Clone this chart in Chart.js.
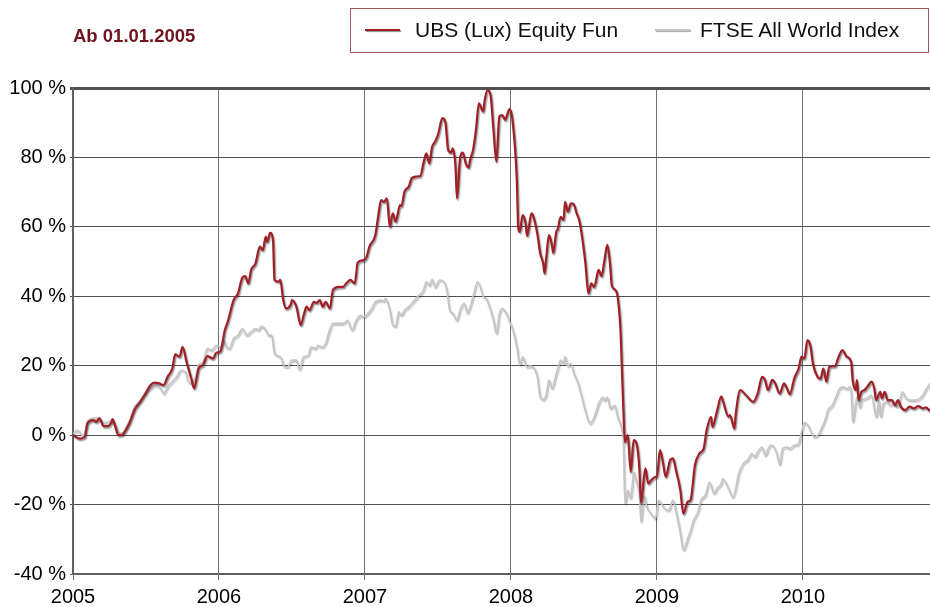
<!DOCTYPE html>
<html>
<head>
<meta charset="utf-8">
<script src="https://cdn.jsdelivr.net/npm/chart.js@4.4.1/dist/chart.umd.min.js"></script>
<style>
  html, body { margin: 0; padding: 0; background: #fff; }
  #wrap { position: relative; width: 930px; height: 607px; font-family: "Liberation Sans", Arial, sans-serif; }
  #perfChart { position: absolute; left: 0; top: 0; }
  #since { position: absolute; left: 73px; top: 27px; font-size: 18.5px; line-height: 18px; font-weight: bold; color: #6e1420; }
  #legendBox { position: absolute; left: 350px; top: 8px; width: 577px; height: 43px; border: 1px solid #a9555e; }
  .sample { position: absolute; top: 20px; width: 35px; height: 2px; }
  .lbl { position: absolute; top: 10px; font-size: 21px; line-height: 21px; color: #111; white-space: nowrap; }
</style>
</head>
<body>
<div id="wrap">
  <canvas id="perfChart" width="930" height="607"></canvas>
  <div id="since">Ab 01.01.2005</div>
  <div id="legendBox">
    <div class="sample" style="left:14px; background:#a11f27; box-shadow:1px 1px 1px rgba(0,0,0,0.45);"></div>
    <div class="lbl" style="left:64px;">UBS (Lux) Equity Fun</div>
    <div class="sample" style="left:304px; background:#c6c6c6; box-shadow:1px 1px 1px rgba(0,0,0,0.35);"></div>
    <div class="lbl" style="left:349px;">FTSE All World Index</div>
  </div>
</div>
<script>
const startYear = 2005;
const endOffset = 5.87;

// UBS fund: years since 01.01.2005 and performance in %
const ubsT = [
  0.00, 0.05, 0.08, 0.10, 0.14, 0.16, 0.18, 0.21, 0.24, 0.26,
  0.27, 0.29, 0.31, 0.33, 0.36, 0.39, 0.42, 0.46, 0.49, 0.53,
  0.56, 0.59, 0.62, 0.65, 0.68, 0.70, 0.73, 0.75, 0.78, 0.81,
  0.83, 0.86, 0.89, 0.92, 0.96, 0.98, 1.01, 1.04, 1.06, 1.10,
  1.13, 1.16, 1.18, 1.20, 1.22, 1.25, 1.28, 1.30, 1.32, 1.33,
  1.35, 1.37, 1.38, 1.41, 1.42, 1.44, 1.46, 1.49, 1.50, 1.53,
  1.56, 1.58, 1.60, 1.62, 1.65, 1.67, 1.69, 1.71, 1.73, 1.76,
  1.78, 1.82, 1.85, 1.87, 1.90, 1.93, 1.95, 1.99, 2.01, 2.03,
  2.07, 2.09, 2.11, 2.13, 2.15, 2.17, 2.19, 2.21, 2.24, 2.25,
  2.27, 2.30, 2.32, 2.35, 2.38, 2.40, 2.42, 2.44, 2.46, 2.48,
  2.50, 2.53, 2.55, 2.57, 2.59, 2.60, 2.62, 2.63, 2.65, 2.67,
  2.69, 2.71, 2.72, 2.74, 2.76, 2.78, 2.81, 2.82, 2.84, 2.86,
  2.88, 2.90, 2.92, 2.94, 2.96, 2.97, 2.99, 3.01, 3.04, 3.05,
  3.06, 3.08, 3.10, 3.11, 3.14, 3.15, 3.18, 3.20, 3.22, 3.23,
  3.24, 3.26, 3.28, 3.29, 3.31, 3.32, 3.34, 3.36, 3.37, 3.39,
  3.41, 3.43, 3.45, 3.47, 3.49, 3.51, 3.53, 3.55, 3.57, 3.60,
  3.62, 3.64, 3.66, 3.68, 3.69, 3.71, 3.73, 3.75, 3.76, 3.77,
  3.78, 3.80, 3.82, 3.84, 3.86, 3.88, 3.89, 3.92, 3.94, 3.96,
  3.99, 4.00, 4.02, 4.04, 4.06, 4.09, 4.11, 4.13, 4.16, 4.18,
  4.21, 4.23, 4.26, 4.29, 4.32, 4.34, 4.37, 4.38, 4.41, 4.44,
  4.45, 4.49, 4.50, 4.53, 4.54, 4.57, 4.61, 4.66, 4.69, 4.72,
  4.74, 4.76, 4.79, 4.81, 4.84, 4.87, 4.89, 4.91, 4.94, 4.97,
  4.99, 5.01, 5.03, 5.05, 5.07, 5.10, 5.12, 5.14, 5.16, 5.18,
  5.22, 5.24, 5.27, 5.30, 5.33, 5.34, 5.36, 5.37, 5.38, 5.40,
  5.42, 5.44, 5.47, 5.49, 5.50, 5.53, 5.54, 5.56, 5.58, 5.61,
  5.63, 5.65, 5.67, 5.70, 5.73, 5.76, 5.79, 5.82, 5.84, 5.87
];
const ubsPct = [
  0, -1, -0.5, 3.5, 4.3, 3.8, 4.9, 2.6, 2.6, 3.5,
  4.6, 2.4, 0, 0, 1.4, 3.8, 7.2, 9.6, 11.5, 14.4,
  15.1, 14.9, 14.4, 17, 19.2, 23.3, 22.6, 25.4, 20.7, 16.3,
  13.5, 19.2, 20.2, 22.8, 22.1, 23.7, 24.2, 30.3, 32.7, 38.9,
  40.8, 45.4, 45.8, 43.7, 47.6, 49.5, 54.3, 53.3, 57.2, 55.7,
  58.3, 56.2, 44.7, 44.2, 44.7, 38.9, 36.5, 37.5, 38.9, 37,
  31.7, 34.6, 37, 36, 38.4, 38.1, 38.9, 37, 38.4, 36.5,
  41.8, 42.7, 42.7, 43.7, 44.7, 43.7, 49.7, 50.4, 51.2, 54.3,
  57.5, 62.9, 67.7, 67.2, 68.2, 60, 63.9, 61.5, 66.3, 66,
  70.1, 71.6, 74, 74.5, 74.7, 78.3, 81.2, 78.3, 83.1, 84.5,
  86.5, 91.3, 90.3, 82.1, 81.4, 82.6, 77.3, 68.2, 79.3, 81.4,
  78.3, 77.1, 79.3, 82.1, 87.9, 95.6, 93.2, 96.5, 99.4, 98,
  87.9, 78.8, 91.8, 92.2, 90.8, 91.8, 93.9, 90.8, 73.5, 59.6,
  58.6, 63.4, 61, 57.4, 63.9, 63.4, 58.1, 52.4, 49.5, 46.6,
  50.4, 57.6, 54.8, 52.5, 58.6, 59.3, 62.9, 62, 67.2, 64.4,
  66.8, 66.5, 63.9, 61.5, 56.2, 49.5, 40.8, 43.7, 42.7, 47.6,
  45.8, 50.4, 54.8, 48.5, 43.2, 42, 40, 30.3, 18.7, 7.2,
  -2, 0, -10.6, -1.4, -2.4, -10.1, -19.5, -9.6, -13.9, -13,
  -12, -12, -4.3, -7.7, -12, -7.2, -6.7, -10.1, -15.9, -22.6,
  -19.2, -18.7, -8.6, -5.3, -3.8, 1.4, 5.3, 2.4, 6.7, 11.2,
  10.1, 5.3, 5.8, 1.9, 6.3, 13, 11.5, 9.6, 12, 16.8,
  15.9, 13, 15.9, 14.9, 12, 14.9, 13.5, 11.8, 16.3, 19.2,
  22.6, 22.1, 27.4, 25.9, 20.2, 16.8, 16.3, 19.2, 15.4, 19.7,
  19.9, 22.1, 24.5, 22.6, 21.1, 15.9, 13, 15.9, 10.1, 12.5,
  13, 13.9, 15.4, 13, 10.1, 12.5, 10.6, 12.5, 10.1, 10.1,
  8.6, 10.1, 8.2, 7.2, 8.2, 7.7, 8.4, 7.7, 8, 7
];

// FTSE All World benchmark
const ftseT = [
  0.00, 0.03, 0.07, 0.10, 0.15, 0.18, 0.22, 0.25, 0.29, 0.31,
  0.34, 0.36, 0.39, 0.42, 0.46, 0.49, 0.53, 0.57, 0.60, 0.62,
  0.65, 0.69, 0.71, 0.74, 0.77, 0.79, 0.81, 0.84, 0.86, 0.89,
  0.92, 0.95, 0.98, 1.01, 1.03, 1.05, 1.07, 1.10, 1.13, 1.16,
  1.19, 1.22, 1.25, 1.27, 1.29, 1.32, 1.34, 1.36, 1.38, 1.42,
  1.45, 1.47, 1.50, 1.53, 1.55, 1.58, 1.61, 1.63, 1.66, 1.68,
  1.70, 1.73, 1.75, 1.78, 1.82, 1.85, 1.88, 1.91, 1.94, 1.97,
  1.99, 2.02, 2.05, 2.07, 2.11, 2.13, 2.14, 2.17, 2.19, 2.21,
  2.23, 2.25, 2.27, 2.30, 2.33, 2.36, 2.40, 2.42, 2.44, 2.46,
  2.48, 2.51, 2.54, 2.56, 2.58, 2.60, 2.63, 2.65, 2.68, 2.70,
  2.72, 2.74, 2.77, 2.79, 2.81, 2.83, 2.86, 2.88, 2.90, 2.92,
  2.94, 2.97, 2.99, 3.01, 3.04, 3.06, 3.08, 3.11, 3.13, 3.15,
  3.18, 3.20, 3.22, 3.24, 3.26, 3.28, 3.31, 3.32, 3.34, 3.36,
  3.37, 3.39, 3.41, 3.43, 3.46, 3.49, 3.52, 3.54, 3.57, 3.60,
  3.63, 3.64, 3.66, 3.68, 3.71, 3.73, 3.76, 3.77, 3.78, 3.80,
  3.82, 3.84, 3.86, 3.88, 3.89, 3.91, 3.93, 3.96, 3.99, 4.01,
  4.03, 4.05, 4.08, 4.11, 4.13, 4.16, 4.18, 4.21, 4.23, 4.25,
  4.28, 4.30, 4.33, 4.36, 4.39, 4.41, 4.44, 4.45, 4.49, 4.52,
  4.56, 4.59, 4.62, 4.65, 4.67, 4.69, 4.72, 4.74, 4.77, 4.79,
  4.82, 4.84, 4.86, 4.89, 4.91, 4.94, 4.97, 4.99, 5.01, 5.04,
  5.05, 5.08, 5.11, 5.13, 5.15, 5.17, 5.20, 5.23, 5.25, 5.28,
  5.30, 5.32, 5.33, 5.34, 5.36, 5.37, 5.39, 5.40, 5.42, 5.45,
  5.47, 5.49, 5.50, 5.52, 5.53, 5.55, 5.57, 5.60, 5.62, 5.65,
  5.68, 5.70, 5.73, 5.77, 5.80, 5.82, 5.84, 5.87
];
const ftsePct = [
  0.5, 1.4, -0.3, 4, 5, 4.5, 3.5, 4, 3, 1,
  0.5, 2, 4.5, 8, 10, 12, 13.5, 14.4, 13.5, 12,
  14.1, 15.9, 16.8, 18.7, 18.2, 15.4, 14.9, 16.8, 20.2, 21.1,
  25, 24.5, 25.9, 25.4, 27.5, 25.4, 25, 27.9, 28.8, 30.7,
  28.8, 29.8, 30.7, 30.3, 31.4, 30.3, 28.8, 28.8, 23.5, 22.6,
  19.7, 19.7, 21.6, 21.6, 18.9, 22.6, 23, 25.4, 25, 25.9,
  25.4, 26.4, 29.3, 32.2, 32.2, 32.2, 33.1, 30.3, 33.1, 34.5,
  34.1, 35, 36.8, 38.4, 38.9, 38.6, 39.4, 36, 31.7, 31.4,
  35.5, 34.6, 36, 37, 38.4, 39.9, 41.8, 44.2, 43.2, 44.9,
  42.7, 44.7, 44.2, 41.8, 36, 35.2, 33.1, 36, 38, 35.2,
  37, 39.9, 44.2, 42.7, 39.9, 39.4, 36, 33.1, 29.3, 35,
  36.5, 34.9, 32.7, 30.7, 25.4, 20.2, 22.6, 19.7, 19.9, 19.7,
  16.8, 11, 10.3, 11.5, 15.9, 13.5, 17.8, 19.2, 21.6, 20.7,
  22.6, 19.9, 20.7, 17.8, 14.9, 10.1, 5.3, 3.4, 5.3, 9.1,
  11, 10, 11, 7.7, 8.6, 5.3, 1.4, -2.4, -19.7, -15.9,
  -18.2, -10.6, -13.5, -17.8, -25, -17.3, -20.7, -22.6, -24, -18.7,
  -19.7, -21, -21.6, -18.7, -22.1, -28.3, -33.1, -29.8, -27.4, -24.5,
  -22.1, -18.7, -17.3, -13.5, -16.8, -15.4, -13.9, -12.5, -15.4, -17.8,
  -11, -8.2, -7.2, -5.3, -6.3, -4.8, -3.4, -5.8, -3.2, -2.9,
  -5.3, -8.4, -3.8, -3.4, -3.8, -2.9, -2.4, 1, 3.6, 2.4,
  1.4, -0.5, 0.5, 2.4, 4.3, 7.2, 8.6, 11.5, 13.5, 13.9,
  13.3, 13.9, 12.5, 3.8, 9.1, 11, 8, 10.1, 10.4, 11,
  11.5, 7.2, 5.3, 10, 5.3, 9.1, 9.6, 8.6, 9.1, 8.2,
  12.5, 11, 10.1, 10.1, 10.6, 11.5, 13, 14.9
];

const yMin = -40, yMax = 100, yStep = 20;

function toPoints(ts, vals) {
    return ts.map((t, i) => ({ x: startYear + t, y: vals[i] }));
}

// soft drop shadow under each performance line
const lineShadow = {
    id: 'lineShadow',
    beforeDatasetDraw(chart, args) {
        const ctx = chart.ctx;
        ctx.save();
        ctx.shadowColor = args.index === 0 ? 'rgba(0,0,0,0.45)' : 'rgba(0,0,0,0.3)';
        ctx.shadowOffsetX = 1;
        ctx.shadowOffsetY = 1.5;
        ctx.shadowBlur = 1.5;
    },
    afterDatasetDraw(chart) {
        chart.ctx.restore();
    }
};

const font = { family: '"Liberation Sans", Arial, sans-serif', size: 20 };

new Chart(document.getElementById('perfChart'), {
    type: 'line',
    data: {
        datasets: [
            {
                label: 'UBS (Lux) Equity Fun',
                data: toPoints(ubsT, ubsPct),
                borderColor: '#a11f27',
                borderWidth: 2.2,
                order: 0
            },
            {
                label: 'FTSE All World Index',
                data: toPoints(ftseT, ftsePct),
                borderColor: '#c6c6c6',
                borderWidth: 1.6,
                order: 1
            }
        ]
    },
    options: {
        responsive: false,
        animation: false,
        layout: { padding: { top: 88, left: 0, right: 0, bottom: 0 } },
        elements: {
            point: { radius: 0 },
            line: { tension: 0.35, cubicInterpolationMode: 'monotone' }
        },
        plugins: {
            legend: { display: false },
            tooltip: { enabled: false }
        },
        scales: {
            x: {
                type: 'linear',
                min: startYear,
                max: startYear + endOffset,
                afterBuildTicks: s => { s.ticks = s.ticks.filter(t => Number.isInteger(t.value)); },
                afterFit: s => { s.height = 33; },
                ticks: {
                    stepSize: 1,
                    autoSkip: false,
                    maxRotation: 0,
                    padding: 5,
                    color: '#000',
                    font: font,
                    callback: v => String(v)
                },
                grid: { color: '#707070', lineWidth: 1, tickLength: 6 },
                border: { color: '#606060', width: 2 }
            },
            y: {
                min: yMin,
                max: yMax,
                afterFit: s => { s.width = 73; },
                ticks: {
                    stepSize: yStep,
                    padding: 4,
                    color: '#000',
                    font: font,
                    callback: v => v + ' %'
                },
                grid: {
                    color: '#505050',
                    lineWidth: c => (c.tick && c.tick.value === yMax ? 3 : 1),
                    tickLength: 3
                },
                border: { color: '#606060', width: 2 }
            }
        }
    },
    plugins: [lineShadow]
});
</script>
</body>
</html>
